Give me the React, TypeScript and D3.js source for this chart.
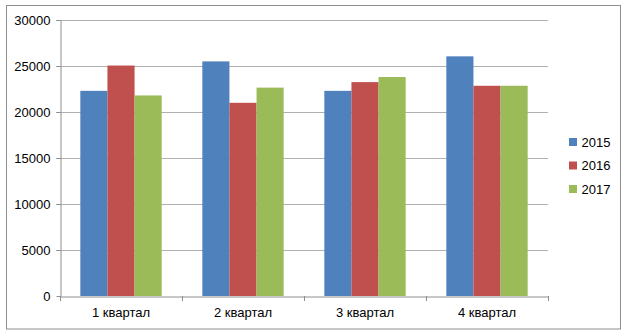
import { useEffect, useRef } from 'react'
import * as d3 from 'd3'

const quarters = ['1 квартал', '2 квартал', '3 квартал', '4 квартал']
const years = ['2015', '2016', '2017']
const values2015 = [22300, 25500, 22300, 26050]
const values2016 = [25050, 21000, 23250, 22850]
const values2017 = [21800, 22650, 23800, 22850]
const yTicks = [0, 5000, 10000, 15000, 20000, 25000, 30000]
const colors = ['#4F81BD', '#C0504D', '#9BBB59']

export default function App() {
  const svgRef = useRef<SVGSVGElement>(null)

  useEffect(() => {
    if (!svgRef.current) return
    const svg = d3.select(svgRef.current)
    svg.selectAll('*').remove()

    const width = 627
    const height = 336
    const plot = { left: 60, right: 548, top: 20, bottom: 296 }
    const font = '"Liberation Sans", Arial, sans-serif'
    const series = [values2015, values2016, values2017]

    svg.append('rect')
      .attr('width', width).attr('height', height).attr('fill', '#fff')

    // chart frame
    svg.append('rect')
      .attr('x', 6.5).attr('y', 5.5)
      .attr('width', 614).attr('height', 323.5)
      .attr('fill', 'none').attr('stroke', '#8E8E8E').attr('stroke-width', 1)

    const x = d3.scaleBand<string>()
      .domain(quarters)
      .range([plot.left, plot.right])
      .paddingInner(0)
      .paddingOuter(0)

    const y = d3.scaleLinear()
      .domain([0, 30000])
      .range([plot.bottom, plot.top])

    const inner = d3.scaleBand<string>()
      .domain(years)
      .range([0, x.bandwidth()])
      .paddingOuter(0.75)
      .paddingInner(0)

    // grid lines
    svg.append('g')
      .selectAll('line')
      .data(yTicks.filter(t => t > 0))
      .enter()
      .append('line')
      .attr('x1', plot.left - 4)
      .attr('x2', plot.right)
      .attr('y1', d => Math.round(y(d)) + 0.5)
      .attr('y2', d => Math.round(y(d)) + 0.5)
      .attr('stroke', '#B0B0B0')
      .attr('stroke-width', 1)

    // bars
    const groups = svg.append('g')
      .selectAll('g')
      .data(years)
      .enter()
      .append('g')
      .attr('fill', (d, i) => colors[i])

    groups.selectAll('rect')
      .data((d, i) => quarters.map((q, j) => ({ q, year: d, v: series[i][j] })))
      .enter()
      .append('rect')
      .attr('x', d => x(d.q)! + inner(d.year)!)
      .attr('width', inner.bandwidth())
      .attr('y', d => y(d.v))
      .attr('height', d => plot.bottom - y(d.v))

    // y axis
    const yAxis = svg.append('g')
      .attr('transform', `translate(${plot.left + 0.5},0)`)
      .call(d3.axisLeft(y).tickValues(yTicks).tickFormat(d3.format('d')).tickSize(4).tickSizeOuter(0).tickPadding(6))
    yAxis.select('.domain').attr('stroke', '#8E8E8E')
    yAxis.selectAll('.tick line').attr('stroke', '#8E8E8E')
    yAxis.selectAll('.tick text')
      .attr('font-family', font).attr('font-size', 13).attr('fill', '#000')

    // x axis
    const xAxis = svg.append('g')
      .attr('transform', `translate(0,${plot.bottom + 0.5})`)
      .call(d3.axisBottom(x).tickSize(0).tickPadding(11))
    xAxis.select('.domain').attr('stroke', '#8E8E8E')
    xAxis.selectAll('.tick text')
      .attr('font-family', font).attr('font-size', 13).attr('fill', '#000')

    svg.append('g')
      .selectAll('line')
      .data([...quarters.map(q => x(q)!), plot.right])
      .enter()
      .append('line')
      .attr('x1', d => Math.round(d) + 0.5)
      .attr('x2', d => Math.round(d) + 0.5)
      .attr('y1', plot.bottom)
      .attr('y2', plot.bottom + 5)
      .attr('stroke', '#8E8E8E')

    // legend
    const legend = svg.append('g')
      .selectAll('g')
      .data(years)
      .enter()
      .append('g')
      .attr('transform', (d, i) => `translate(569,${142 + i * 23.5})`)
    legend.append('rect')
      .attr('x', 0).attr('y', -4)
      .attr('width', 8).attr('height', 8)
      .attr('fill', (d, i) => colors[i])
    legend.append('text')
      .attr('x', 12.5).attr('y', 0)
      .attr('dy', '0.35em')
      .attr('font-family', font).attr('font-size', 13)
      .text(d => d)
  }, [])

  return (
    <svg
      ref={svgRef}
      width={627}
      height={336}
      style={{ position: 'absolute', left: 0, top: 0 }}
    />
  )
}
